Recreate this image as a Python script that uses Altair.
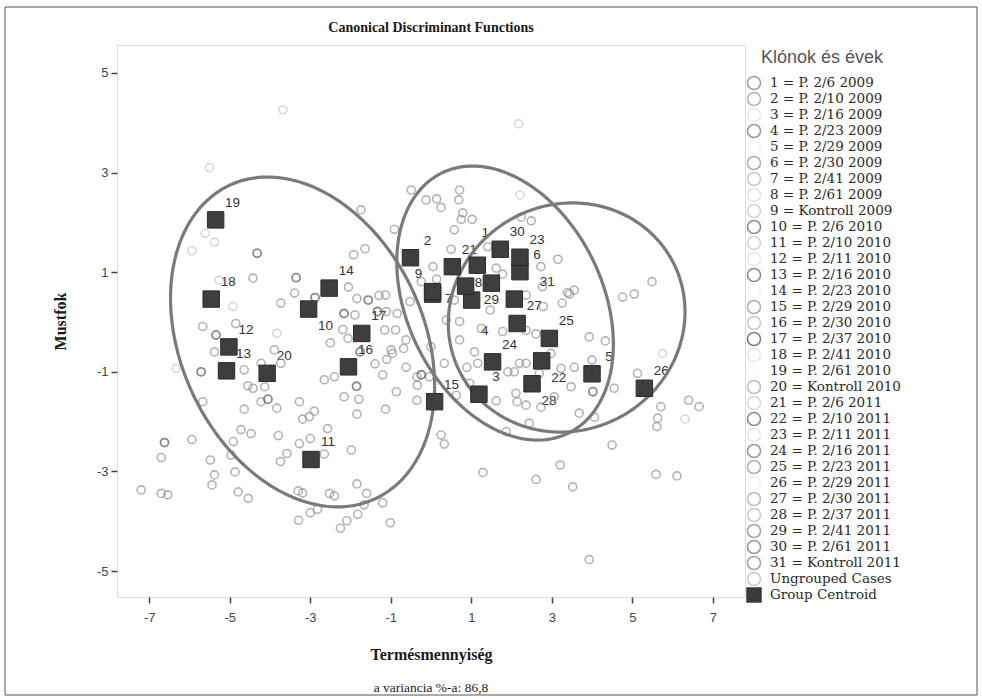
import altair as alt
import numpy as np
import pandas as pd

# ---------------- data ----------------
x_ticks = [-7, -5, -3, -1, 1, 3, 5, 7]
y_ticks = [-5, -3, -1, 1, 3, 5]
x_domain = [-7.8, 7.8]
y_domain = [-5.52, 5.56]

centroid_id = list(range(1, 32))
centroid_x = [1.15, -0.51, 1.19, 1.01, 4.00, 2.21, 0.04, 0.86, 0.04, -3.04,
              -2.98, -5.02, -5.08, -2.53, 0.09, -2.05, -1.72, -5.46, -5.35, -4.07,
              0.53, 2.75, 2.21, 1.53, 2.94, 5.30, 2.14, 2.51, 1.50, 1.72, 2.07]
centroid_y = [1.14, 1.29, -1.45, 0.44, -1.04, 1.01, 0.56, 0.72, 0.61, 0.26,
              -2.76, -0.50, -0.98, 0.68, -1.60, -0.90, -0.23, 0.46, 2.05, -1.03,
              1.11, -0.78, 1.30, -0.80, -0.33, -1.33, -0.03, -1.24, 0.78, 1.46, 0.46]

# cases (open circles), split by how dark they print
mid_x = [-1.74, -1.92, -1.64, -4.42, -3.39, -3.73, -2.05, -1.84, -1.29, -1.89, -0.84,
         -5.67, -4.85, -5.38, -3.89, -4.64, -4.22, -3.73, -4.55, -4.42, -4.13, -4.22,
         -3.83, -4.64, -5.67, -3.27, -3.19, -3.02, -2.90, -4.72, -4.47, -3.79, -3.27,
         -3.00, -2.57, -2.65, -1.98, -3.58, -3.74, -4.91, -4.97, -4.87, -5.48, -5.38,
         -5.44, -6.70, -5.94, -7.20, -6.70, -6.54, -4.79, -4.54, -3.30, -3.19, -2.52,
         -2.40, -1.84, -1.60, -1.66, -1.20, -3.00, -2.82, -3.29, -2.25, -2.09, -1.82,
         -1.01, -2.50, -2.19, -2.06, -2.65, -2.40, -2.16, -1.79, -1.84, -1.39, -1.10,
         -0.96, -0.68, -0.34, -1.13,
         3.44, 2.79, 2.36, 1.47,
         -0.49, 0.71, -0.12, 0.14, 0.25, 0.69, 0.79, 1.02, 0.75, 2.24, 2.49, -0.91,
         0.58, 0.50, 1.41, 0.05, 1.62, 1.78, 2.73, 3.15, 2.77, 3.39, 3.56, 3.26, 4.76,
         5.05, 5.49, -1.13, -0.52, -0.24, 0.14, 0.58, 0.38, 0.71, 1.25, 1.78, 2.36,
         2.61, -1.11, -0.88, -1.15, -0.62, -0.99, 0.00, 0.71, 1.08, 0.89, 0.33, -0.04,
         -0.35, -0.62, -1.20, -0.86, -0.35, 1.91, 2.07, 2.36, 2.98, 3.23, 3.56, 3.93,
         4.33, 4.00, 3.48, 4.55, 5.13, 5.71, 5.63, 2.11, 2.36, 1.62, 0.96, 0.63, 3.68,
         2.69,
         6.40, 6.66, 5.61, 4.06, 4.50, 0.33, 1.29, 2.61, 3.21, 3.52, 5.59, 6.11, 3.93,
         0.25, 1.87, 2.44, 2.14, 2.73, 3.06, 2.20, 1.16]
mid_y = [2.25, 1.35, 1.47, 0.88, 0.58, 0.38, 0.70, 0.47, 0.53, 0.14, 0.17,
         -0.09, -0.03, -0.60, -0.56, -0.96, -0.83, -0.83, -1.28, -1.33, -1.30, -1.60,
         -1.73, -1.75, -1.60, -1.60, -1.95, -1.90, -1.79, -2.16, -2.24, -2.28, -2.44,
         -2.34, -2.14, -2.65, -2.57, -2.64, -2.80, -2.40, -2.67, -3.01, -2.77, -3.07,
         -3.27, -2.72, -2.36, -3.37, -3.44, -3.47, -3.41, -3.54, -3.39, -3.43, -3.44,
         -3.49, -3.25, -3.44, -3.67, -3.63, -3.83, -3.76, -3.98, -4.14, -3.99, -3.86,
         -4.03, -0.42, -0.15, -0.33, -1.16, -1.10, -1.50, -1.55, -1.85, -0.84, -0.75,
         -0.63, -0.53, -1.27, -1.75,
         0.56, 0.31, 0.54, 0.24,
         2.65, 2.65, 2.45, 2.47, 2.30, 2.45, 2.19, 2.06, 2.06, 2.10, 2.03, 1.86,
         1.85, 1.46, 1.51, 1.11, 1.08, 0.96, 1.11, 1.26, 0.71, 0.59, 0.64, 0.38, 0.50,
         0.56, 0.81, 0.54, 0.41, 0.81, 0.86, 0.44, 0.04, 0.01, -0.13, -0.19, -0.17,
         -0.24, 0.21, -0.16, -0.16, -0.36, -0.56, -0.50, -0.36, -0.60, -0.91, -0.83, -1.10,
         -1.10, -0.91, -1.06, -1.40, -1.57, -1.00, -1.00, -0.83, -0.63, -0.93, -0.91, -0.30,
         -0.38, -0.76, -1.30, -1.33, -1.03, -1.70, -1.93, -1.43, -1.67, -1.58, -1.23, -1.47, -1.83,
         -1.03,
         -1.57, -1.70, -2.10, -1.91, -2.47, -2.45, -3.02, -3.16, -2.87, -3.31, -3.06, -3.09, -4.77,
         -2.27, -2.20, -2.03, -1.60, -1.71, -1.50, -0.83, -0.83]

dark_x = [-4.32, -3.35, -2.88, -1.56, -2.16, -1.33, -5.34, -5.71, -4.05, -6.62,
          -1.76, -1.85, -0.24, 4.02]
dark_y = [1.38, 0.89, 0.49, 0.44, 0.17, 0.21, -0.26, -1.00, -1.55, -2.42,
          -0.60, -1.29, -1.06, -1.40]

light_x = [-3.68, -5.50, -5.38, -5.61, -5.94, -4.92, -5.26, -3.83, -6.33, 2.18,
           2.21, 6.31, 5.75]
light_y = [4.26, 3.10, 1.60, 1.78, 1.43, 0.31, 0.84, -0.23, -0.93, 3.98,
           2.55, -1.95, -0.63]

# confidence ellipses: centre x, centre y, half-width, half-height, correlation
ellipse_cx = [-3.19, 1.84, 3.37]
ellipse_cy = [-0.40, 0.38, 0.09]
ellipse_sx = [3.28, 2.69, 2.94]
ellipse_sy = [3.31, 2.75, 2.30]
ellipse_rho = [-0.265, -0.30, 0.05]

legend_labels = ["1 = P. 2/6 2009", "2 = P. 2/10 2009", "3 = P. 2/16 2009",
                 "4 = P. 2/23 2009", "5 = P. 2/29 2009", "6 = P. 2/30 2009",
                 "7 = P. 2/41 2009", "8 = P. 2/61 2009", "9 = Kontroll 2009",
                 "10 = P. 2/6 2010", "11 = P. 2/10 2010", "12 = P. 2/11 2010",
                 "13 = P. 2/16 2010", "14 = P. 2/23 2010", "15 = P. 2/29 2010",
                 "16 = P. 2/30 2010", "17 = P. 2/37 2010", "18 = P. 2/41 2010",
                 "19 = P. 2/61 2010", "20 = Kontroll 2010", "21 = P. 2/6 2011",
                 "22 = P. 2/10 2011", "23 = P. 2/11 2011", "24 = P. 2/16 2011",
                 "25 = P. 2/23 2011", "26 = P. 2/29 2011", "27 = P. 2/30 2011",
                 "28 = P. 2/37 2011", "29 = P. 2/41 2011", "30 = P. 2/61 2011",
                 "31 = Kontroll 2011", "Ungrouped Cases"]
centroid_label = "Group Centroid"
title_text = "Canonical Discriminant Functions"
caption_text = "a variancia %-a: 86,8"
legend_title = "Klónok és évek"

# ---------------- styles ----------------
W, H = 628, 552
legend_grays = ["#7a7a7a", "#9a9a9a", "#e2e2e2", "#6e6e6e", "#f2f2f2", "#8e8e8e",
                "#b4b4b4", "#dcdcdc", "#c4c4c4", "#5e5e5e", "#c4c4c4", "#e2e2e2",
                "#5e5e5e", "#f4f4f4", "#8e8e8e", "#b4b4b4", "#4a4a4a", "#e0e0e0",
                "#fafafa", "#a4a4a4", "#cccccc", "#5e5e5e", "#dddddd", "#6e6e6e",
                "#8e8e8e", "#f2f2f2", "#a4a4a4", "#b8b8b8", "#7e7e7e", "#6a6a6a",
                "#7e7e7e", "#b8b8b8"]
placements = {"ur": (17, -17), "lr": (17, 17), "ul": (-14, -18), "r": (13, -3),
              "r2": (16, 5), "up": (8, -32), "dn": (0, 17), "dn2": (13, 31),
              "ur2": (33, -17)}
label_place = {10: "lr", 1: "up", 9: "ul", 7: "r2", 8: "r", 29: "dn", 4: "dn2",
               31: "ur2", 22: "lr", 28: "lr"}

SANS = "Liberation Sans"
SERIF = "Liberation Serif"

xscale = alt.Scale(domain=x_domain, nice=False, zero=False)
yscale = alt.Scale(domain=y_domain, nice=False, zero=False)
xaxis = alt.Axis(values=x_ticks, labelExpr="toString(datum.value)", grid=False, domain=False,
                 tickSize=6, tickWidth=1.5, tickColor="#444", labelFont=SANS, labelFontSize=13,
                 labelColor="#444", labelPadding=8, title="Termésmennyiség",
                 titleFont=SERIF, titleFontSize=16, titleFontWeight="bold", titleColor="#1a1a1a",
                 titleX=W / 2, titleY=57, titleAlign="center", titleBaseline="middle")
yaxis = alt.Axis(values=y_ticks, labelExpr="toString(datum.value)", grid=False, domain=False,
                 tickSize=6, tickWidth=1.5, tickColor="#444", labelFont=SANS, labelFontSize=13,
                 labelColor="#444", labelPadding=3, title="Mustfok",
                 titleFont=SERIF, titleFontSize=16, titleFontWeight="bold", titleColor="#1a1a1a",
                 titleX=-57, titleY=H / 2, titleAngle=270, titleAlign="center",
                 titleBaseline="middle")
X = alt.X("x:Q", scale=xscale, axis=xaxis)
Y = alt.Y("y:Q", scale=yscale, axis=yaxis)

# ---------------- tables ----------------
cent = pd.DataFrame({"x": centroid_x, "y": centroid_y,
                     "label": [str(i) for i in centroid_id],
                     "place": [label_place.get(i, "ur") for i in centroid_id]})
mid = pd.DataFrame({"x": mid_x, "y": mid_y})
dark = pd.DataFrame({"x": dark_x, "y": dark_y})
light = pd.DataFrame({"x": light_x, "y": light_y})

t = np.linspace(0, 2 * np.pi, 241)
rows = []
for e in range(3):
    cx, cy, sx, sy, r = (ellipse_cx[e], ellipse_cy[e], ellipse_sx[e],
                         ellipse_sy[e], ellipse_rho[e])
    for k, tt in enumerate(t):
        rows.append({"e": e, "k": k,
                     "x": cx + sx * np.cos(tt),
                     "y": cy + r * sy * np.cos(tt) + sy * np.sqrt(1 - r * r) * np.sin(tt)})
ell = pd.DataFrame(rows)

# ---------------- main plot layers ----------------
layers = []
for key, (dx, dy) in placements.items():
    sub = cent[cent.place == key]
    if len(sub) == 0:
        continue
    layers.append(alt.Chart(sub).mark_text(dx=dx, dy=dy, font=SANS, fontSize=13.5,
                                           color="#333").encode(x=X, y=Y, text="label:N"))

layers.append(alt.Chart(light).mark_point(shape="circle", filled=False, size=65,
                                          strokeWidth=1.6, color="#c9c9c9").encode(x=X, y=Y))
layers.append(alt.Chart(mid).mark_point(shape="circle", filled=False, size=65,
                                        strokeWidth=1.6, color="#959595").encode(x=X, y=Y))
layers.append(alt.Chart(dark).mark_point(shape="circle", filled=False, size=65,
                                         strokeWidth=1.8, color="#5a5a5a").encode(x=X, y=Y))
layers.append(alt.Chart(ell).mark_line(color="#7a7a7a", strokeWidth=3.2).encode(
    x=X, y=Y, detail="e:N", order="k:Q"))
layers.append(alt.Chart(cent).mark_point(shape="square", filled=True, size=270, opacity=1,
                                         color="#3e3e3e", stroke="#2c2c2c",
                                         strokeWidth=1).encode(x=X, y=Y))

# title, caption under the x axis title and frame around the figure
layers.append(alt.Chart(alt.Data(values=[{"t": title_text}])).mark_text(
    font=SERIF, fontSize=14, fontWeight="bold", color="#1a1a1a", baseline="middle").encode(
    x=alt.value(W / 2), y=alt.value(-17), text="t:N"))
layers.append(alt.Chart(alt.Data(values=[{"t": caption_text}])).mark_text(
    font=SERIF, fontSize=13.5, color="#222", baseline="middle").encode(
    x=alt.value(W / 2), y=alt.value(643), text="t:N"))
layers.append(alt.Chart(alt.Data(values=[{}])).mark_rect(
    fillOpacity=0, stroke="#555", strokeWidth=1).encode(
    x=alt.value(-112), x2=alt.value(860), y=alt.value(-38), y2=alt.value(650)))

main = alt.layer(*layers)

# ---------------- legend ----------------
leg = pd.DataFrame({"idx": list(range(len(legend_labels))), "name": legend_labels})
leg_all = pd.DataFrame({"idx": list(range(len(legend_labels) + 1)),
                        "name": legend_labels + [centroid_label]})
leg_c = pd.DataFrame({"idx": [len(legend_labels)], "name": [centroid_label]})
LY = alt.Y("idx:Q", scale=alt.Scale(domain=[0, 32], range=[38, 550]), axis=None)

leg_circles = alt.Chart(leg).mark_point(shape="circle", filled=False, size=170,
                                        strokeWidth=1.6).encode(
    x=alt.value(637), y=LY,
    stroke=alt.Stroke("name:N", scale=alt.Scale(domain=legend_labels, range=legend_grays),
                      legend=None))
leg_square = alt.Chart(leg_c).mark_point(shape="square", filled=True, size=240, opacity=1,
                                         color="#3a3a3a").encode(x=alt.value(637), y=LY)
leg_text = alt.Chart(leg_all).mark_text(align="left", baseline="middle", font="DejaVu Serif",
                                        fontSize=13.5, color="#2a2a2a").encode(
    x=alt.value(653), y=LY, text="name:N")
leg_title = alt.Chart(alt.Data(values=[{"t": legend_title}])).mark_text(
    align="left", baseline="middle", font=SANS, fontSize=18, color="#555").encode(
    x=alt.value(644), y=alt.value(13), text="t:N")

legend = alt.layer(leg_circles, leg_square, leg_text, leg_title)

chart = alt.layer(main, legend).resolve_scale(y="independent", stroke="independent").properties(
    width=W, height=H,
    autosize=alt.AutoSizeParams(type="none"),
    padding={"left": 117, "top": 45, "right": 237, "bottom": 102},
).configure_view(fill="#ececec", stroke="#555", strokeWidth=1.5).configure(background="white")

chart.save("out.html", embed_options={"renderer": "svg", "actions": False})
